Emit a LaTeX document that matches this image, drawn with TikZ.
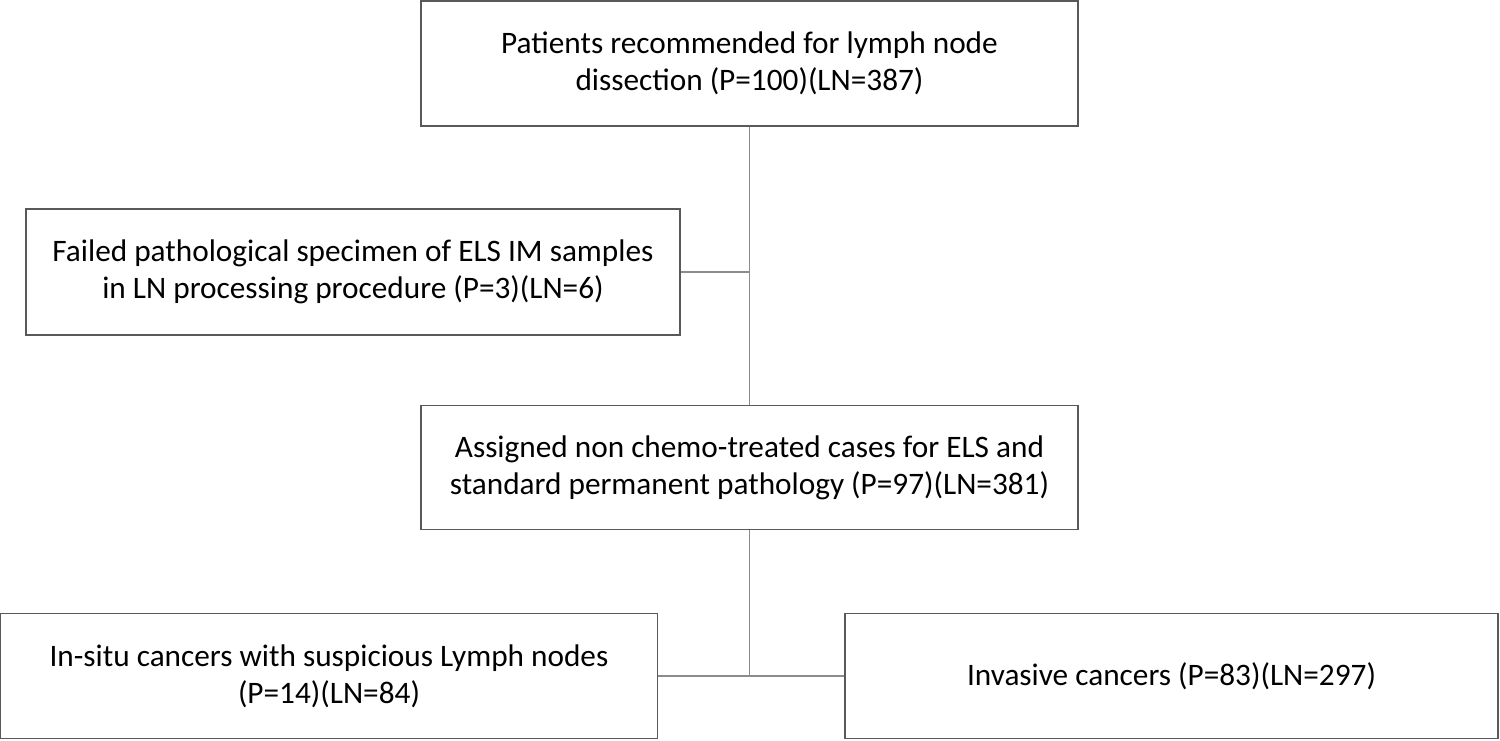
\documentclass[tikz,border=0pt]{standalone}
\usepackage{fontspec}
\setmainfont{Carlito}
\definecolor{boxgray}{HTML}{595959}
\definecolor{linegray}{HTML}{8C8C8C}
\tikzset{
  flowbox/.style={draw=boxgray,line width=0.9pt,fill=white,rectangle,align=center,
    inner sep=0pt,font=\fontsize{17.8}{21}\selectfont},
  link/.style={draw=linegray,line width=0.6pt}
}
\begin{document}
\begin{tikzpicture}[x=0.02cm,y=-0.02cm]
    \useasboundingbox (0,0) rectangle (1500,740);

    % boxes
    \node[flowbox,minimum width=13.14cm,minimum height=2.5cm] (patients) at (749.5,63.5)
        {Patients recommended for lymph node\\dissection (P=100)(LN=387)};
    \node[flowbox,minimum width=13.08cm,minimum height=2.52cm] (failed) at (353,272)
        {Failed pathological specimen of ELS IM samples\\in LN processing procedure (P=3)(LN=6)};
    \node[flowbox,minimum width=13.14cm,minimum height=2.48cm] (assigned) at (749.5,467.5)
        {Assigned non chemo-treated cases for ELS and\\standard permanent pathology (P=97)(LN=381)};
    \node[flowbox,minimum width=13.14cm,minimum height=2.5cm] (insitu) at (329,676)
        {In-situ cancers with suspicious Lymph nodes\\(P=14)(LN=84)};
    \node[flowbox,minimum width=13.06cm,minimum height=2.5cm] (invasive) at (1171.5,676)
        {Invasive cancers (P=83)(LN=297)};

    % connectors
    \draw[link] (patients.south) -- (assigned.north);
    \draw[link] (failed.east) -- (failed.east -| patients.south);

    \coordinate (split) at (assigned.south |- insitu.east);
    \draw[link] (assigned.south) -- (split);
    \draw[link] (insitu.east) -- (invasive.west);

\end{tikzpicture}
\end{document}
